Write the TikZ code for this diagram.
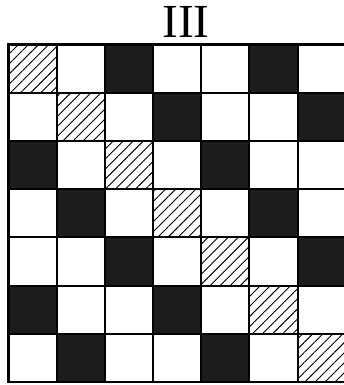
\documentclass[tikz,border=0pt]{standalone}
\usepackage{fontspec}
\setmainfont{Liberation Serif}
\usetikzlibrary{patterns.meta}
\definecolor{ink}{HTML}{1C1C1C}
\tikzset{
  cell/.style={draw=black,line width=1.2pt},
  dark/.style={cell,fill=ink},
  hatch/.style={cell,pattern={Lines[angle=45,distance=4.2pt,line width=0.55pt]}},
  frame/.style={draw=black,line width=1.7pt},
}
\begin{document}
\begin{tikzpicture}
  \useasboundingbox (0,0) rectangle (7.137,7.988);
  \clip (0,0) rectangle (7.137,7.988);
  \node[anchor=base,font=\fontsize{28}{30}\selectfont,inner sep=0pt] (title) at (3.86,7.214) {III};
  \begin{scope}[shift={(0.176,0.062)}]
    % diagonal hatched, dark cells two steps off it
    \foreach \r in {0,...,6}{
      \foreach \c in {0,...,6}{
        \pgfmathtruncatemacro{\d}{mod(\c-\r+7,7)}
        \ifcase\d \def\kind{hatch}\or\def\kind{cell}\or\def\kind{dark}\or\def\kind{cell}\or\def\kind{cell}\or\def\kind{dark}\or\def\kind{cell}\fi
        \draw[\kind] (\c,6-\r) rectangle ++(1,1);
      }
    }
    \draw[frame] (0,0) rectangle (7,7);
  \end{scope}
\end{tikzpicture}
\end{document}
